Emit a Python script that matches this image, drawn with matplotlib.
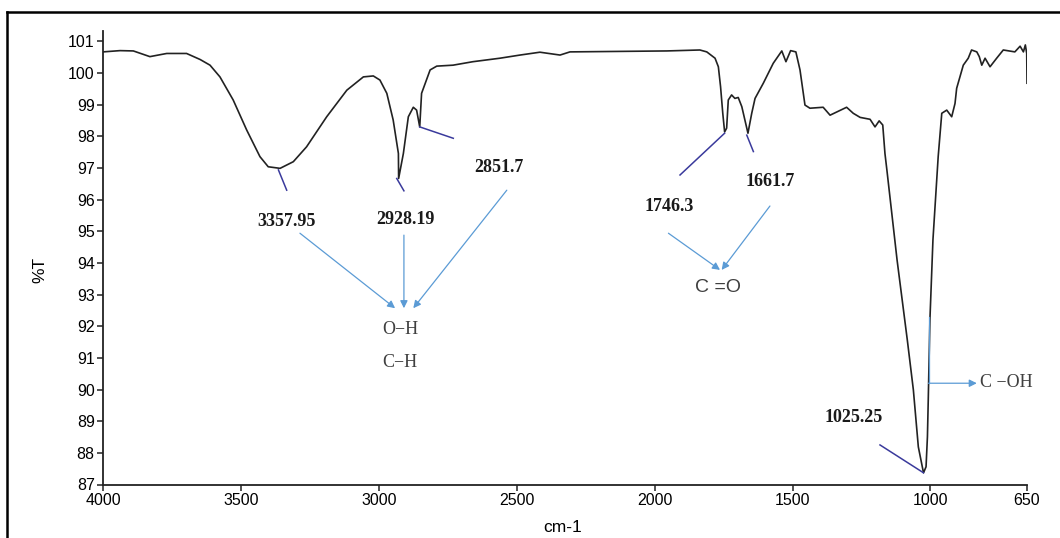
import numpy as np
import matplotlib
matplotlib.use("Agg")
import matplotlib.pyplot as plt
from matplotlib.lines import Line2D

# FTIR spectrum (wavenumber in cm-1, transmittance in %T)
wavenumber = [4000, 3938, 3890, 3830, 3769, 3697, 3648, 3612, 3576, 3528,
              3479, 3431, 3401, 3358, 3310, 3262, 3189, 3116, 3056, 3020,
              2996, 2971, 2948, 2929, 2928.19, 2911, 2893, 2875, 2863, 2851.7,
              2845, 2814, 2790, 2731, 2659, 2561, 2488, 2416, 2343, 2307,
              1956, 1836, 1811, 1781, 1769, 1761, 1753, 1746.3, 1739, 1733,
              1721, 1709, 1697, 1684, 1661.7, 1648, 1636, 1606, 1570, 1539,
              1524, 1507, 1488, 1473, 1455, 1437, 1389, 1364, 1304, 1280,
              1255, 1219, 1201, 1186, 1173, 1165, 1158, 1121, 1084, 1062,
              1044, 1025.25, 1016, 1011, 1008, 1002, 991, 972, 959, 941,
              923, 911, 905, 881, 863, 851, 832, 823, 814, 802,
              784, 760, 736, 694, 675, 663, 656, 651, 650]
transmittance = [100.67, 100.71, 100.70, 100.52, 100.62, 100.62, 100.43, 100.25, 99.88, 99.15,
                 98.20, 97.36, 97.04, 96.99, 97.20, 97.67, 98.62, 99.46, 99.88, 99.91,
                 99.78, 99.36, 98.52, 97.46, 96.67, 97.46, 98.62, 98.92, 98.83, 98.30,
                 99.36, 100.10, 100.22, 100.25, 100.36, 100.47, 100.57, 100.66, 100.57, 100.67,
                 100.70, 100.73, 100.67, 100.47, 100.20, 99.57, 98.73, 98.14, 98.26, 99.15,
                 99.31, 99.20, 99.23, 98.94, 98.10, 98.73, 99.20, 99.68, 100.31, 100.70,
                 100.36, 100.71, 100.67, 100.10, 98.99, 98.89, 98.92, 98.67, 98.92, 98.73,
                 98.60, 98.54, 98.30, 98.49, 98.36, 97.46, 96.94, 94.09, 91.57, 89.99,
                 88.19, 87.37, 87.56, 88.51, 89.67, 92.20, 94.73, 97.36, 98.73, 98.83,
                 98.62, 99.04, 99.52, 100.25, 100.47, 100.73, 100.67, 100.52, 100.25, 100.47,
                 100.20, 100.47, 100.73, 100.67, 100.85, 100.67, 100.89, 100.62, 99.68]

# peak-pick markers: (start wn, start T, end wn, end T)
peak_marks = [(3364, 96.94, 3334, 96.30),
              (2935, 96.67, 2909, 96.28),
              (2851.7, 98.30, 2730, 97.94),
              (1746.3, 98.10, 1908, 96.78),
              (1666, 98.04, 1642, 97.52),
              (1025.25, 87.37, 1183, 88.25)]

# peak labels (text, wn, T)
peak_labels = [("3357.95", 3334, 95.30),
               ("2928.19", 2905, 95.36),
               ("2851.7", 2564, 97.03),
               ("1746.3", 1948, 95.80),
               ("1661.7", 1582, 96.59),
               ("1025.25", 1277, 89.13)]

# arrows from peak labels to the assigned groups: (from wn, from T, to wn, to T)
arrows = [(3286, 94.94, 2941, 92.57),
          (2909, 94.88, 2909, 92.57),
          (2536, 96.30, 2875, 92.57),
          (1950, 94.94, 1763, 93.78),
          (1582, 95.80, 1757, 93.78)]

xticks = [4000, 3500, 3000, 2500, 2000, 1500, 1000, 650]
yticks = list(range(87, 102))

arrow_col = "#5b9bd5"
mark_col = "#3a3a9c"
axis_font = "Liberation Sans"

fig = plt.figure(figsize=(10.6, 5.38), dpi=100)
ax = fig.add_axes([103 / 1060, 1 - 484.5 / 538, 924 / 1060, 453.5 / 538])

ax.plot(wavenumber, transmittance, color="#222222", lw=1.2)
for x0, y0, x1, y1 in peak_marks:
    ax.plot([x0, x1], [y0, y1], color=mark_col, lw=1.1)

for txt, x, y in peak_labels:
    ax.text(x, y, txt, ha="center", va="center", fontsize=13,
            family="Liberation Serif", fontweight="bold", color="#1a1a1a")

for x0, y0, x1, y1 in arrows:
    ax.annotate("", xy=(x1, y1), xytext=(x0, y0),
                arrowprops=dict(arrowstyle="-|>", color=arrow_col, lw=0.9,
                                mutation_scale=11, shrinkA=0, shrinkB=0))

# C-OH assignment arrow
ax.plot([1007, 1007], [92.3, 90.2], color=arrow_col, lw=0.9)
ax.annotate("", xy=(832, 90.2), xytext=(1007, 90.2),
            arrowprops=dict(arrowstyle="-|>", color=arrow_col, lw=0.9,
                            mutation_scale=11, shrinkA=0, shrinkB=0))

ax.text(2923, 91.91, "O\u2212H", ha="center", va="center", fontsize=13,
        family="Liberation Serif", color="#404040")
ax.text(2923, 90.87, "C\u2212H", ha="center", va="center", fontsize=13,
        family="Liberation Serif", color="#404040")
ax.text(1770, 93.24, "C =O", ha="center", va="center", fontsize=14,
        family="Liberation Sans", color="#404040")
ax.text(822, 90.21, "C \u2212OH", ha="left", va="center", fontsize=13,
        family="Liberation Serif", color="#404040")

ax.set_xlim(4000, 650)
ax.set_ylim(87, 101.33)
ax.set_xticks(xticks)
ax.set_yticks(yticks)
ax.spines["top"].set_visible(False)
ax.spines["right"].set_visible(False)
for s in ("left", "bottom"):
    ax.spines[s].set_linewidth(1.3)
    ax.spines[s].set_color("#222222")
ax.tick_params(direction="out", length=4, width=1.1, color="#222222",
               labelsize=11.5, pad=2)
for lab in ax.get_xticklabels() + ax.get_yticklabels():
    lab.set_family(axis_font)

fig.text(563 / 1060, 1 - 527 / 538, "cm-1", ha="center", va="center",
         fontsize=12.5, family=axis_font)
fig.text(40 / 1060, 1 - 270 / 538, "%T", ha="center", va="center", rotation=90,
         fontsize=12.5, family=axis_font)

# frame around the figure
fig.add_artist(Line2D([7 / 1060, 7 / 1060], [0, 1 - 12 / 538], color="black", lw=1.8))
fig.add_artist(Line2D([7 / 1060, 1], [1 - 12 / 538, 1 - 12 / 538], color="black", lw=1.8))

fig.savefig("out.png", dpi=100)
